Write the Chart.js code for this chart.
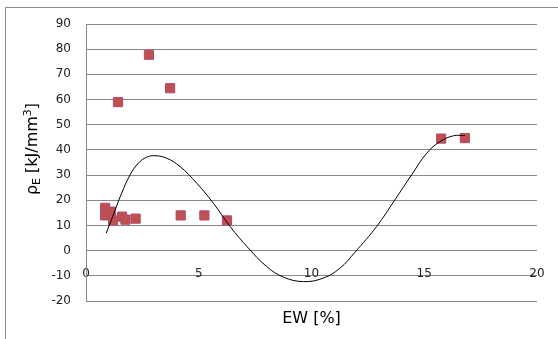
<!DOCTYPE html>
<html>
<head>
<meta charset="utf-8">
<script src="https://cdn.jsdelivr.net/npm/chart.js@4"></script>
<style>
  html, body { margin: 0; padding: 0; background: #ffffff; }
  #wrap { position: relative; width: 558px; height: 339px; overflow: hidden; background: #fff; }
  #frame { position: absolute; left: 5px; top: 7px; width: 700px; height: 500px;
           border-left: 1px solid #8c8c8c; border-top: 1px solid #8c8c8c; }
  #c { position: absolute; left: 0; top: 0; }
</style>
</head>
<body>
<div id="wrap">
  <div id="frame"></div>
  <canvas id="c" width="558" height="339"></canvas>
</div>
<script>
// measured points: EW [%] vs rho_E [kJ/mm3]
const ewValues  = [0.85, 0.85, 1.1, 1.2, 1.6, 1.75, 2.2, 4.2, 5.25, 6.25, 1.42, 2.79, 3.73, 15.75, 16.8];
const rhoValues = [17.0, 14.0, 15.5, 12.0, 13.5, 12.3, 12.7, 14.0, 14.0, 12.0, 59.0, 77.8, 64.5, 44.5, 44.7];

// trend curve
const curveEW  = [0.9, 1.21, 1.58, 1.95, 2.32, 2.69, 3.06, 3.58, 4.17, 4.91, 5.65, 6.39, 7.2, 8.01, 8.75, 9.64, 10.52, 11.26, 11.93, 12.89, 13.7, 14.44, 15.11, 15.7, 16.29, 16.81];
const curveRho = [7.0, 14.2, 22.8, 30.0, 34.7, 37.1, 37.7, 36.7, 33.4, 26.8, 18.8, 9.6, 1.0, -6.3, -10.5, -12.3, -10.9, -7.0, -0.6, 9.6, 20.2, 30.1, 38.7, 43.3, 45.6, 45.7];

// axis ticks
const xTicks = [0, 5, 10, 15, 20];
const yTicks = [-20, -10, 0, 10, 20, 30, 40, 50, 60, 70, 80, 90];

const xTitle = 'EW [%]';
const yTitleParts = [
  { text: 'ρ', kind: 'normal' },
  { text: 'E', kind: 'sub' },
  { text: ' [kJ/mm', kind: 'normal' },
  { text: '3', kind: 'sup' },
  { text: ']', kind: 'normal' }
];

const scatterData = ewValues.map((x, i) => ({ x: x, y: rhoValues[i] }));
const curveData = curveEW.map((x, i) => ({ x: x, y: curveRho[i] }));

const FONT = 'DejaVu Sans';
const GRID = '#888888';

const yTitlePlugin = {
  id: 'yTitle',
  afterDraw(chart) {
    const ctx = chart.ctx;
    const cx = 33, cy = 149;
    ctx.save();
    ctx.translate(cx, cy);
    ctx.rotate(-Math.PI / 2);
    ctx.fillStyle = '#000';
    ctx.textBaseline = 'middle';
    ctx.textAlign = 'left';
    const fontFor = k => (k === 'normal' ? '16px ' : '11px ') + '"' + FONT + '"';
    let total = 0;
    yTitleParts.forEach(p => { ctx.font = fontFor(p.kind); total += ctx.measureText(p.text).width; });
    let x = -total / 2;
    yTitleParts.forEach(p => {
      ctx.font = fontFor(p.kind);
      const dy = p.kind === 'sub' ? 4 : (p.kind === 'sup' ? -5 : 0);
      ctx.fillText(p.text, x, dy);
      x += ctx.measureText(p.text).width;
    });
    ctx.restore();
  }
};

new Chart(document.getElementById('c'), {
  type: 'scatter',
  data: {
    datasets: [
      {
        label: 'trend',
        data: curveData,
        showLine: true,
        borderColor: '#000000',
        borderWidth: 1,
        pointRadius: 0,
        tension: 0.4,
        fill: false,
        xAxisID: 'x',
        yAxisID: 'y'
      },
      {
        label: 'rho',
        data: scatterData,
        pointStyle: 'rect',
        pointRadius: 6.5,
        backgroundColor: '#c0504d',
        borderColor: '#b24a78',
        borderWidth: 1,
        xAxisID: 'x',
        yAxisID: 'y'
      }
    ]
  },
  options: {
    responsive: false,
    devicePixelRatio: 1,
    animation: false,
    layout: { padding: { left: 0, top: 24, right: 21, bottom: 0 } },
    plugins: { legend: { display: false }, tooltip: { enabled: false } },
    scales: {
      x: {
        type: 'linear',
        position: 'bottom',
        min: xTicks[0], max: xTicks[xTicks.length - 1],
        grid: { display: false },
        border: { display: false },
        ticks: { display: false },
        title: {
          display: true, text: xTitle, color: '#000',
          font: { family: FONT, size: 16 },
          padding: { top: 0, bottom: 11 }
        },
        afterFit(scale) { scale.height = 38; }
      },
      x2: {
        type: 'linear',
        position: { y: -10 },
        min: xTicks[0], max: xTicks[xTicks.length - 1],
        grid: { display: false },
        border: { display: false },
        ticks: {
          stepSize: xTicks[1] - xTicks[0],
          color: '#222',
          font: { family: FONT, size: 12 },
          padding: -17,
          maxRotation: 0,
          autoSkip: false
        }
      },
      y: {
        type: 'linear',
        position: 'left',
        min: yTicks[0], max: yTicks[yTicks.length - 1],
        grid: { display: true, drawOnChartArea: true, color: GRID, lineWidth: 1, drawTicks: false },
        border: { display: true, color: GRID, width: 1 },
        ticks: {
          stepSize: yTicks[1] - yTicks[0],
          color: '#222',
          font: { family: FONT, size: 12 },
          padding: 15,
          autoSkip: false
        },
        afterFit(scale) { scale.width = 86; }
      }
    }
  },
  plugins: [yTitlePlugin]
});
</script>
</body>
</html>
